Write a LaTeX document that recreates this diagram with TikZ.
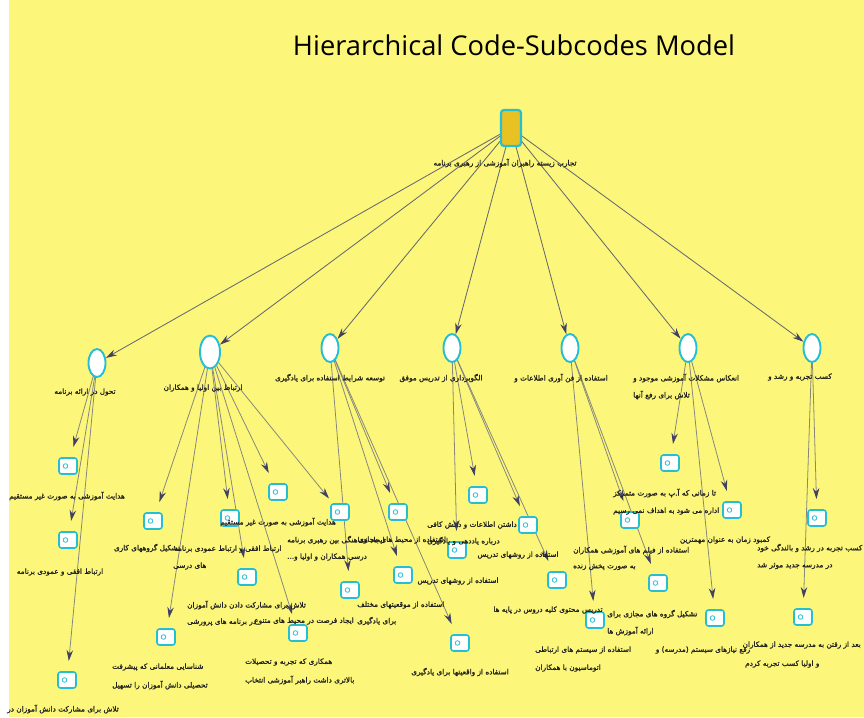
\documentclass[tikz,border=0pt]{standalone}
\usepackage{fontspec}
\setmainfont{DejaVu Sans}
\newfontfamily\fafont[Script=Arabic,FakeBold=1.3]{DejaVu Sans}
\newfontfamily\titlefont{Open Sans}
\TeXXeTstate=1
\usetikzlibrary{shapes.geometric,arrows.meta,calc}
\definecolor{bgc}{RGB}{252,247,122}
\definecolor{cy}{RGB}{38,190,210}
\definecolor{gold}{RGB}{232,193,35}
\definecolor{edgea}{RGB}{105,105,112}
\definecolor{edgeb}{RGB}{135,135,125}
\definecolor{tipc}{RGB}{66,66,96}
\definecolor{txt}{RGB}{35,35,30}
\newcommand\fa[1]{{\fafont\beginR #1\endR}}
\pgfdeclarelayer{bglayer}
\pgfdeclarelayer{edgelayer}
\pgfsetlayers{bglayer,edgelayer,main}
\newcommand\edgefrom[4]{%
  \draw[#4] let \p1=(#1), \p2=(#2), \n1={(\y1+#3pt)/(\y1-\y2)} in
    ($(\p1)!\n1!(\p2)$) -- (#2);}
\begin{document}
\begin{tikzpicture}[x=1pt,y=-1pt,
  rootbox/.style={rectangle, rounded corners=3pt, draw=cy, line width=2.2pt, fill=gold,
    minimum width=20pt, minimum height=36pt, inner sep=0pt},
  cat/.style={ellipse, draw=cy, line width=1.9pt, fill=white,
    minimum width=17pt, minimum height=28pt, inner sep=0pt, outer sep=1pt},
  bigcat/.style={cat, minimum width=20pt, minimum height=33pt},
  code/.style={rectangle, rounded corners=2.5pt, draw=cy, line width=1.6pt, fill=white,
    minimum width=18pt, minimum height=16pt, inner sep=0pt, outer xsep=2pt, outer ysep=11pt,
    path picture={\draw[cy, line width=0.8pt] ([xshift=-2.5pt]path picture bounding box.center) circle (2.3pt);}},
  lab/.style={inner sep=0pt, text=txt, font=\fontsize{7.3}{9}\selectfont},
  edgeone/.style={draw=edgea, line width=0.85pt, -{Stealth[length=11pt,width=6.5pt,color=tipc]}},
  edgetwo/.style={draw=edgeb, line width=0.8pt, -{Stealth[length=11pt,width=6.5pt,color=tipc]}}
]
\useasboundingbox (0,0) rectangle (864,717);
\begin{pgfonlayer}{bglayer}
  \fill[bgc] (0,0) rectangle (864,717);
  \fill[white] (0,0) rectangle (9,717);
\end{pgfonlayer}

\node[text=black] (title) at (514,45) {\resizebox{442pt}{!}{\titlefont Hierarchical Code-Subcodes Model}};

% root
\node[rootbox] (R) at (511,128) {};
\node[lab] (Rl) at (505,163) {\fa{تجارب زیسته راهبران آموزشی از رهبری برنامه}};

% level 1
\node[cat] (N1) at (97,363) {};
\node[bigcat] (N2) at (210,352) {};
\node[cat] (N3) at (330,348) {};
\node[cat] (N4) at (452,348) {};
\node[cat] (N5) at (570,348) {};
\node[cat] (N6) at (688,348) {};
\node[cat] (N7) at (812,348) {};

\node[lab] (N1l) at (85,392) {\fa{تحول در ارائه برنامه}};
\node[lab] (N2l) at (203,388) {\fa{ارتباط بین اولیا و همکاران}};
\node[lab] (N3l) at (330,378) {\fa{توسعه شرایط استفاده برای یادگیری}};
\node[lab] (N4l) at (441,378) {\fa{الگوبرداری از تدریس موفق}};
\node[lab] (N5l) at (561,378) {\fa{استفاده از فن آوری اطلاعات و}};
\node[lab, anchor=west] (N6l) at (633,378) {\fa{انعکاس مشکلات آموزشی موجود و}};
\node[lab, anchor=west] (N6m) at (633,395) {\fa{تلاش برای رفع آنها}};
\node[lab] (N7l) at (800,377) {\fa{کسب تجربه و رشد و}};

% level 2
\node[code] (a) at (68,466) {};
\node[code] (b) at (68,540) {};
\node[code] (c) at (67,680) {};
\node[code] (d) at (153,521) {};
\node[code] (e) at (230,518) {};
\node[code] (f) at (278,492) {};
\node[code] (g) at (247,577) {};
\node[code] (h) at (166,637) {};
\node[code] (i) at (298,633) {};
\node[code] (j) at (340,512) {};
\node[code] (k) at (398,512) {};
\node[code] (l) at (403,575) {};
\node[code] (m) at (350,590) {};
\node[code] (n) at (460,643) {};
\node[code] (o) at (478,495) {};
\node[code] (p) at (457,550) {};
\node[code] (q) at (528,525) {};
\node[code] (r) at (557,580) {};
\node[code] (s) at (630,520) {};
\node[code] (t) at (658,583) {};
\node[code] (u) at (595,620) {};
\node[code] (v) at (670,463) {};
\node[code] (w) at (732,510) {};
\node[code] (x) at (715,618) {};
\node[code] (y) at (817,518) {};
\node[code] (z) at (803,617) {};

% level 2 labels
\node[lab] (al) at (67,496) {\fa{هدایت آموزشی به صورت غیر مستقیم}};
\node[lab] (bl) at (60,572) {\fa{ارتباط افقی و عمودی برنامه}};
\node[lab] (cl) at (63,709) {\fa{تلاش برای مشارکت دانش آموزان در}};
\node[lab] (dl) at (147,548) {\fa{تشکیل گروههای کاری}};
\node[lab, anchor=west] (el) at (174,549) {\fa{ارتباط افقی و ارتباط عمودی برنامه}};
\node[lab, anchor=west] (em) at (173,566) {\fa{های درسی}};
\node[lab] (fl) at (278,522) {\fa{هدایت آموزشی به صورت غیر مستقیم}};
\node[lab, anchor=west] (gl) at (187,605) {\fa{تلاش برای مشارکت دادن دانش آموزان}};
\node[lab, anchor=west] (gm) at (187,622) {\fa{در برنامه های پرورشی}};
\node[lab, anchor=west] (hl) at (112,667) {\fa{شناسایی معلمانی که پیشرفت}};
\node[lab, anchor=west] (hm) at (112,685) {\fa{تحصیلی دانش آموزان را تسهیل}};
\node[lab, anchor=west] (il) at (245,662) {\fa{همکاری که تجربه و تحصیلات}};
\node[lab, anchor=west] (im) at (245,680) {\fa{بالاتری داشت راهبر آموزشی انتخاب}};
\node[lab, anchor=west] (jl) at (287,540) {\fa{ایجاد هماهنگی بین رهبری برنامه}};
\node[lab, anchor=west] (jm) at (287,557) {\fa{درسی همکاران و اولیا و...}};
\node[lab] (kl) at (402,540) {\fa{استفاده از محیط های مجازی}};
\node[lab, anchor=west] (ll) at (357,605) {\fa{استفاده از موقعیتهای مختلف}};
\node[lab, anchor=west] (lm) at (357,621) {\fa{برای یادگیری}};
\node[lab, anchor=east] (ml) at (354,621) {\fa{ایجاد فرصت در محیط های متنوع}};
\node[lab] (nl) at (460,672) {\fa{استفاده از واقعیتها برای یادگیری}};
\node[lab, anchor=west] (ol) at (427,525) {\fa{داشتن اطلاعات و دانش کافی}};
\node[lab, anchor=west] (om) at (427,541) {\fa{درباره یاددهی و یادگیری}};
\node[lab] (pl) at (458,581) {\fa{استفاده از روشهای تدریس}};
\node[lab] (ql) at (518,555) {\fa{استفاده از روشهای تدریس}};
\node[lab] (rl) at (548,610) {\fa{تدریس محتوی کلیه دروس در پایه ها}};
\node[lab, anchor=west] (sl) at (573,550) {\fa{استفاده از فیلم های آموزشی همکاران}};
\node[lab, anchor=west] (sm) at (573,567) {\fa{به صورت پخش زنده}};
\node[lab, anchor=west] (tl) at (607,614) {\fa{تشکیل گروه های مجازی برای}};
\node[lab, anchor=west] (tm) at (607,631) {\fa{ارائه آموزش ها}};
\node[lab, anchor=west] (ul) at (535,650) {\fa{استفاده از سیستم های ارتباطی}};
\node[lab, anchor=west] (um) at (535,668) {\fa{اتوماسیون با همکاران}};
\node[lab, anchor=west] (vl) at (613,493) {\fa{تا زمانی که آ.پ به صورت متمرکز}};
\node[lab, anchor=west] (vm) at (613,511) {\fa{اداره می شود به اهداف نمی رسیم}};
\node[lab] (wl) at (725,540) {\fa{کمبود زمان به عنوان مهمترین}};
\node[lab] (xl) at (703,650) {\fa{رفع نیازهای سیستم (مدرسه) و}};
\node[lab, anchor=west] (yl) at (757,548) {\fa{کسب تجربه در رشد و بالندگی خود}};
\node[lab, anchor=west] (ym) at (757,566) {\fa{در مدرسه جدید موثر شد}};
\node[lab, anchor=east] (zl) at (861,645) {\fa{بعد از رفتن به مدرسه جدید از همکاران}};
\node[lab, anchor=west] (zm) at (745,664) {\fa{و اولیا کسب تجربه کردم}};

% edges
\begin{pgfonlayer}{edgelayer}
\foreach \c in {N1,N2,N3,N4,N5,N6,N7} {\edgefrom{R}{\c}{175}{edgeone}}
\foreach \c in {a,b,c} {\edgefrom{N1}{\c}{399}{edgetwo}}
\foreach \c in {d,e,f,g,h,i,j} {\edgefrom{N2}{\c}{396}{edgetwo}}
\foreach \c in {k,l,m,n} {\edgefrom{N3}{\c}{386}{edgetwo}}
\foreach \c in {o,p,q,r} {\edgefrom{N4}{\c}{386}{edgetwo}}
\foreach \c in {s,t,u} {\edgefrom{N5}{\c}{386}{edgetwo}}
\foreach \c in {v,w,x} {\edgefrom{N6}{\c}{403}{edgetwo}}
\foreach \c in {y,z} {\edgefrom{N7}{\c}{385}{edgetwo}}
\end{pgfonlayer}
\end{tikzpicture}
\end{document}
